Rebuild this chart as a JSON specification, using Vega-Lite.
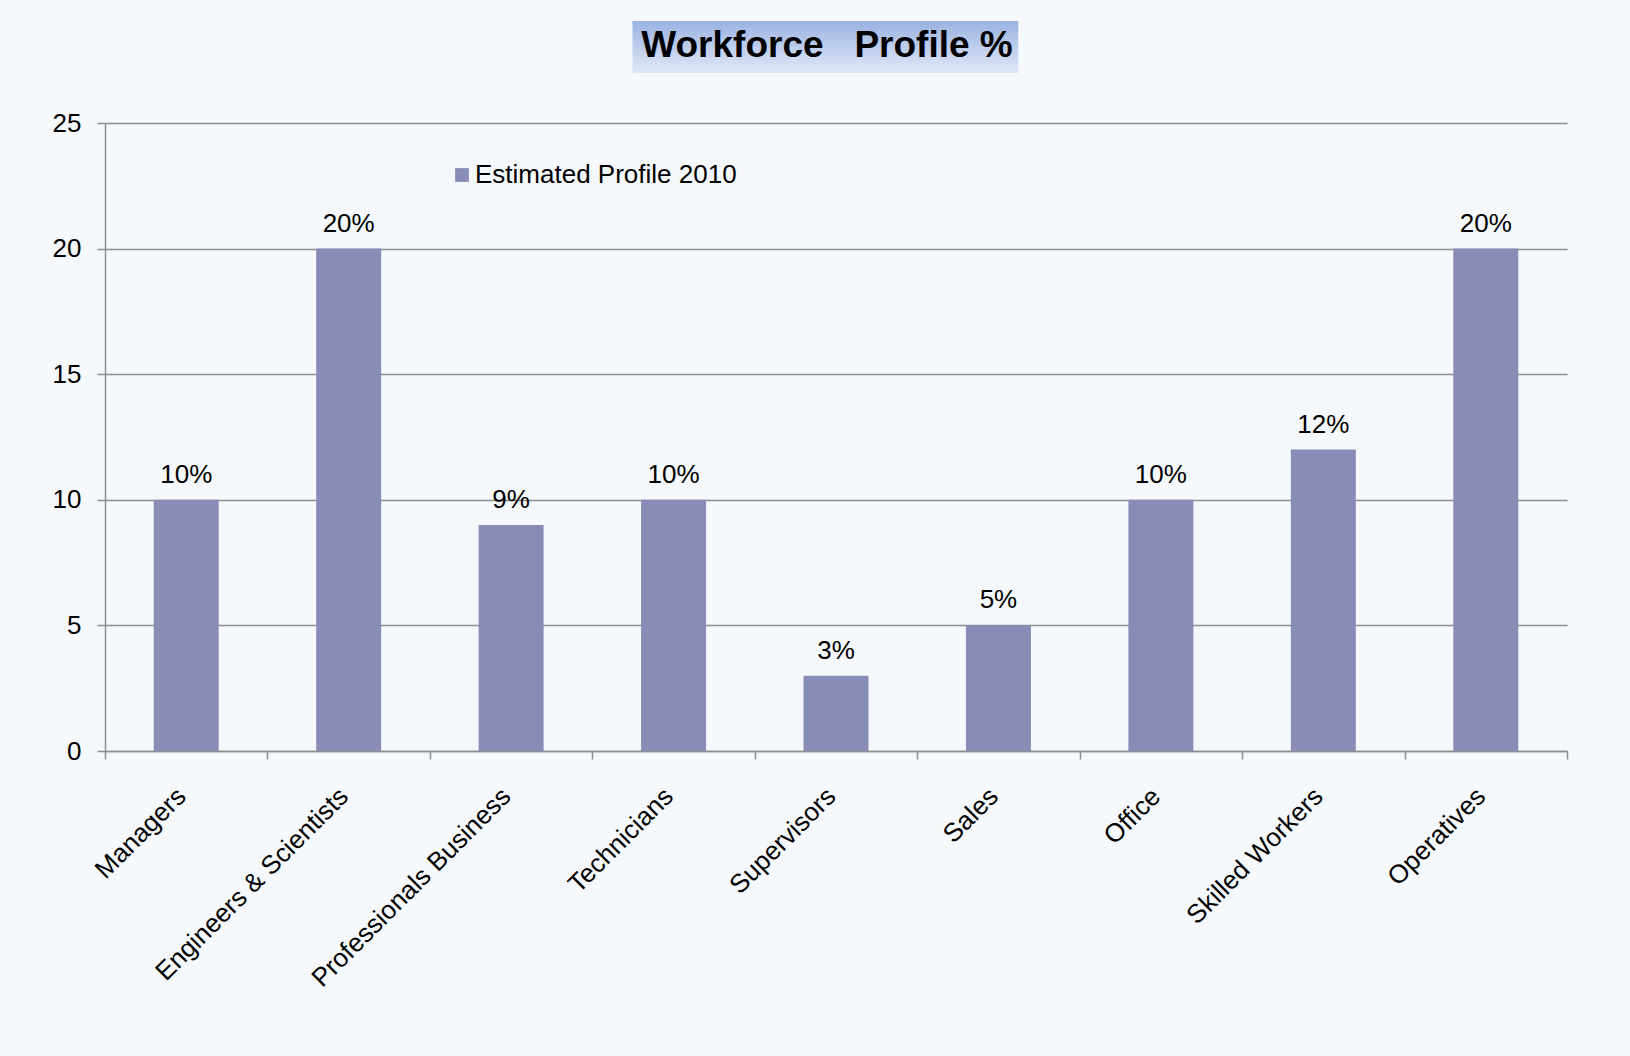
{
  "$schema": "https://vega.github.io/schema/vega-lite/v6.json",
  "autosize": "none",
  "width": 1462,
  "height": 628,
  "padding": {"left": 105, "top": 123, "right": 63, "bottom": 305},
  "background": "#f5f9fb",
  "title": {
    "text": "Workforce\u00a0\u00a0\u00a0Profile %",
    "font": "Liberation Sans",
    "fontSize": 37,
    "fontWeight": "bold",
    "color": "#000000",
    "anchor": "middle",
    "frame": "group",
    "baseline": "alphabetic",
    "offset": -73,
    "dx": -9,
    "zindex": 1
  },
  "config": {
    "view": {"stroke": null},
    "font": "Liberation Sans"
  },
  "data": {
    "values": [
      {"Category": "Managers", "Value": 10, "Label": "10%", "Series": "Estimated Profile 2010"},
      {"Category": "Engineers & Scientists", "Value": 20, "Label": "20%", "Series": "Estimated Profile 2010"},
      {"Category": "Professionals Business", "Value": 9, "Label": "9%", "Series": "Estimated Profile 2010"},
      {"Category": "Technicians", "Value": 10, "Label": "10%", "Series": "Estimated Profile 2010"},
      {"Category": "Supervisors", "Value": 3, "Label": "3%", "Series": "Estimated Profile 2010"},
      {"Category": "Sales", "Value": 5, "Label": "5%", "Series": "Estimated Profile 2010"},
      {"Category": "Office", "Value": 10, "Label": "10%", "Series": "Estimated Profile 2010"},
      {"Category": "Skilled Workers", "Value": 12, "Label": "12%", "Series": "Estimated Profile 2010"},
      {"Category": "Operatives", "Value": 20, "Label": "20%", "Series": "Estimated Profile 2010"}
    ]
  },
  "layer": [
    {
      "data": {"values": [{}]},
      "mark": {
        "type": "rect",
        "clip": false,
        "color": {
          "gradient": "linear",
          "x1": 0, "y1": 0, "x2": 0, "y2": 1,
          "stops": [
            {"offset": 0, "color": "#9bb3e2"},
            {"offset": 1, "color": "#e0e8f6"}
          ]
        }
      },
      "encoding": {
        "x": {"datum": 3.247, "type": "quantitative", "scale": {"domain": [0, 9], "nice": false, "zero": false}, "axis": null},
        "x2": {"datum": 5.622},
        "y": {"datum": 29.06, "type": "quantitative", "scale": {"domain": [0, 25], "nice": false}},
        "y2": {"datum": 26.99}
      }
    },
    {
      "mark": {"type": "bar", "width": {"band": 0.4}},
      "encoding": {
        "x": {
          "field": "Category",
          "type": "nominal",
          "sort": null,
          "scale": {"paddingInner": 0, "paddingOuter": 0},
          "axis": {
            "title": null,
            "orient": "bottom",
            "tickBand": "extent",
            "labelAngle": -45,
            "labelAlign": "right",
            "labelBaseline": "middle",
            "labelFontSize": 26,
            "labelFont": "Liberation Sans",
            "labelColor": "#000000",
            "labelPadding": 33,
            "labelOffset": -5,
            "labelLimit": 0,
            "domainColor": "#8e8e8e",
            "domainWidth": 1.5,
            "tickColor": "#8e8e8e",
            "tickWidth": 1.5,
            "tickSize": 8,
            "grid": false
          }
        },
        "y": {
          "field": "Value",
          "type": "quantitative",
          "scale": {"domain": [0, 25], "nice": false},
          "axis": {
            "title": null,
            "values": [0, 5, 10, 15, 20, 25],
            "labelFontSize": 26,
            "labelFont": "Liberation Sans",
            "labelColor": "#000000",
            "labelPadding": 16,
            "tickSize": 8,
            "tickColor": "#8e8e8e",
            "tickWidth": 1.5,
            "domainColor": "#8e8e8e",
            "domainWidth": 1.5,
            "grid": true,
            "gridColor": "#8e8e8e",
            "gridWidth": 1.5
          }
        },
        "color": {
          "field": "Series",
          "type": "nominal",
          "scale": {"range": ["#8a8cb8"]},
          "legend": {
            "title": null,
            "orient": "none",
            "legendX": 344,
            "legendY": 39,
            "symbolType": "square",
            "symbolSize": 190,
            "symbolStrokeWidth": 0,
            "labelFontSize": 26,
            "labelFont": "Liberation Sans",
            "labelColor": "#000000",
            "labelOffset": 0,
            "labelLimit": 0,
            "padding": 0
          }
        }
      }
    },
    {
      "mark": {"type": "text", "baseline": "alphabetic", "dy": -17, "fontSize": 26, "font": "Liberation Sans", "color": "#000000"},
      "encoding": {
        "x": {"field": "Category", "type": "nominal", "sort": null, "scale": {"paddingInner": 0, "paddingOuter": 0}, "axis": null},
        "y": {"field": "Value", "type": "quantitative"},
        "text": {"field": "Label"}
      }
    }
  ],
  "resolve": {"scale": {"x": "independent"}, "axis": {"x": "independent"}}
}
